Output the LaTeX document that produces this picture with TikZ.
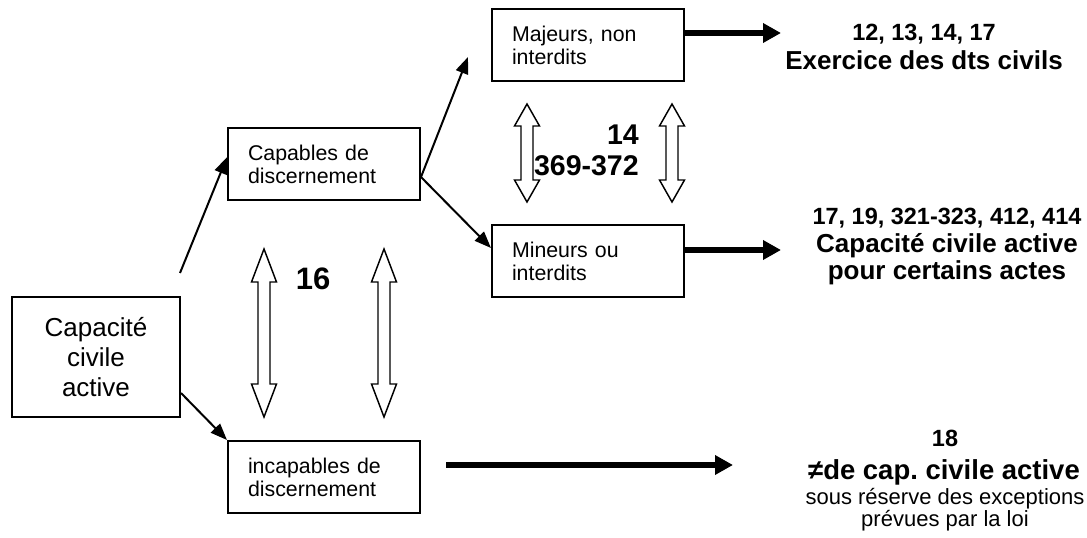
\documentclass[tikz,border=0pt]{standalone}
\usepackage{fontspec}
\setmainfont{Liberation Sans}
\usetikzlibrary{arrows.meta}

\tikzset{
  box/.style={draw, line width=1.5pt, rectangle, minimum height=54pt,
    text width=114pt, inner xsep=15pt, inner ysep=0pt, align=left,
    font=\fontsize{16}{17.25}\selectfont},
  rootbox/.style={draw, line width=1.5pt, rectangle, minimum height=90pt,
    text width=126pt, inner xsep=0pt, inner ysep=0pt, align=center,
    font=\fontsize{19.5}{22.5}\selectfont},
  thin/.style={line width=1.5pt, -{Triangle[length=12.5pt,width=9.5pt]}},
  thick/.style={line width=4.5pt, -{Triangle[length=13.5pt,width=14pt]}},
  hollow/.style={draw, line width=1.1pt, fill=white, line join=miter},
  artnum/.style={anchor=base, inner sep=0pt, font=\fontsize{17.6}{20}\bfseries},
  arttxt/.style={anchor=base, inner sep=0pt, font=\fontsize{19.5}{22}\bfseries},
  note/.style={anchor=base, inner sep=0pt, font=\fontsize{16.5}{19}\selectfont},
  artbig/.style={inner sep=0pt, font=\fontsize{23.25}{28}\bfseries},
  artmid/.style={anchor=base east, inner sep=0pt, font=\fontsize{21.4}{25}\bfseries}
}

\begin{document}
\begin{tikzpicture}[x=0.75pt, y=-0.75pt]
\useasboundingbox (0,0) rectangle (1087,538);

% boxes
\node[rootbox] (cca) at (96,357) {Capacit\'e\\civile\\active};
\node[box] (capables) at (324,164.5) {Capables de\\discernement};
\node[box] (incap) at (324,477) {incapables de\\discernement};
\node[box] (majeurs) at (588,45) {Majeurs, non\\interdits};
\node[box] (mineurs) at (588,261) {Mineurs ou\\interdits};

% free ends
\coordinate (ccatop) at (180,273);
\coordinate (majin) at (468,57);

% thin arrows
\draw[thin] (ccatop) -- ([yshift=5.5pt]capables.west);
\draw[thin] ([yshift=-27pt]cca.east) -- (incap.north west);
\draw[thin] ([yshift=-9.4pt]capables.east) -- (majin);
\draw[thin] ([yshift=-9.4pt]capables.east) -- ([yshift=9.75pt]mineurs.west);

% thick arrows
\draw[thick] ([yshift=9pt]majeurs.east) -- ++(96,0);
\draw[thick] ([yshift=8.25pt]mineurs.east) -- ++(96,0);
\draw[thick] ([xshift=18.75pt,yshift=9pt]incap.east) -- ++(287,0);

% hollow double arrows
\foreach \x/\ya/\yb/\h in {264/249/417/33, 384/249/417/33, 527/104/202/22, 672/104/202/22}
  \path[hollow] (\x,\ya) -- (\x+12.5,\ya+\h) -- (\x+6,\ya+\h) -- (\x+6,\yb-\h)
    -- (\x+12.5,\yb-\h) -- (\x,\yb) -- (\x-12.5,\yb-\h) -- (\x-6,\yb-\h)
    -- (\x-6,\ya+\h) -- (\x-12.5,\ya+\h) -- cycle;

% article numbers
\node[artbig, anchor=base] (a16) at (313,289) {16};
\node[artmid] (a14) at (639,145) {14};
\node[artmid] (a369) at (639,176) {369-372};

% results
\node[artnum] (r1num) at (924,41) {12, 13, 14, 17};
\node[arttxt] (r1txt) at (924,70) {Exercice des dts civils};
\node[artnum] (r2num) at (947,224) {17, 19, 321-323, 412, 414};
\node[arttxt] (r2txt) at (947,252) {Capacit\'e civile active};
\node[arttxt] (r2txtb) at (947,279) {pour certains actes};
\node[artnum] (r3num) at (945,446) {18};
\node[arttxt, font=\fontsize{20.6}{24}\bfseries] (r3txt) at (944,479) {≠de cap.\ civile active};
\node[note] (r3note) at (945,504) {sous r\'eserve des exceptions};
\node[note] (r3noteb) at (945,526) {pr\'evues par la loi};
\end{tikzpicture}
\end{document}
